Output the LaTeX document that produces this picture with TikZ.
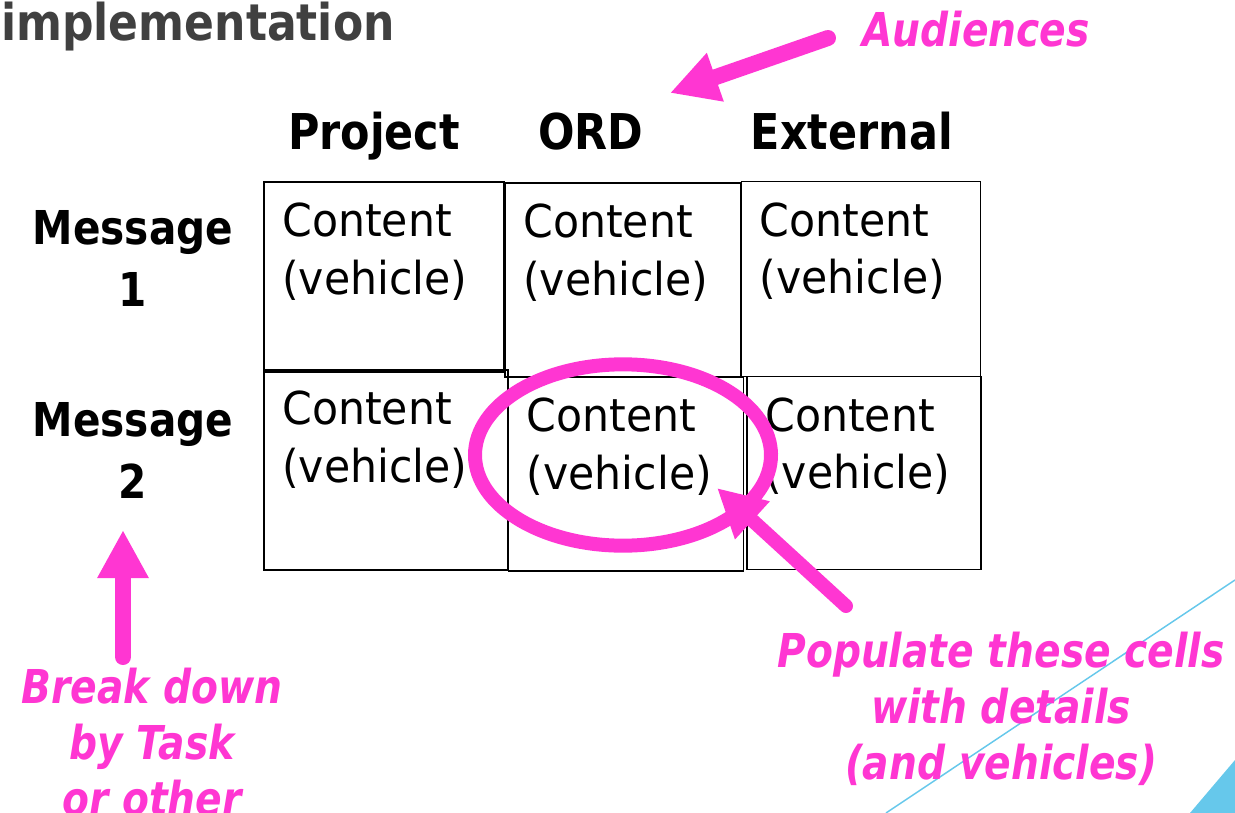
\documentclass[tikz,border=0pt]{standalone}
\usepackage{fontspec}
\setmainfont{DejaVu Sans}[FakeStretch=0.94,BoldFeatures={FakeStretch=0.87},BoldItalicFeatures={FakeStretch=0.84}]
\usetikzlibrary{arrows.meta,shapes.geometric}

\definecolor{hot}{RGB}{255,54,210}
\definecolor{sky}{RGB}{102,200,235}
\definecolor{slate}{RGB}{64,64,64}

\tikzset{
cell/.style={draw,line width=1.4pt,inner sep=0pt},
content/.style={anchor=north west,inner sep=0pt,align=left,font=\fontsize{34}{43}\selectfont},
head/.style={inner sep=0pt,font=\bfseries\fontsize{37}{47}\selectfont},
note/.style={hot,align=center,inner sep=0pt,font=\bfseries\itshape\fontsize{35}{42}\selectfont},
ring/.style={ellipse,draw=hot,line width=10.5pt,minimum width=222pt,minimum height=136pt,inner sep=0pt},
fat/.style={hot,line width=12pt,line cap=round,-{Triangle[length=36pt,width=36pt]}},
}

\begin{document}
\begin{tikzpicture}[x=0.75pt,y=-0.75pt]
\useasboundingbox (0,0) rectangle (1235,813);

% corner decoration
\draw[sky,line width=1.1pt] (1235,580) -- (886,813);
\fill[sky] (1190,813) -- (1235,760) -- (1235,813) -- cycle;

\node[anchor=base west,inner sep=0pt,slate,font=\bfseries\fontsize{38}{48}\selectfont] (title) at (1,41) {implementation};

% column and row heads
\node[head,anchor=base] (proj) at (374,150) {Project};
\node[head,anchor=base] (ord) at (591,150) {ORD};
\node[head,anchor=base] (ext) at (852,150) {External};
\node[head,anchor=north,align=center,font=\bfseries\fontsize{35}{47}\selectfont] (msg1) at (133,210) {Message\\1};
\node[head,anchor=north,align=center,font=\bfseries\fontsize{35}{47}\selectfont] (msg2) at (133,402) {Message\\2};

% grid
\foreach \n/\x/\y/\w/\h in {11/384/277/240/190,12/623/280/236/194,13/861/279/239/195,
21/386/470/244/200,22/626/474/235/194,23/864/473/234/193}
\node[cell,minimum width=\w*0.75pt,minimum height=\h*0.75pt] (c\n) at (\x,\y) {};
\foreach \n in {11,12,13,21,22,23}
\node[content] (t\n) at ([shift={(19,22)}]c\n.north west) {Content\\(vehicle)};

% notes
\node[note,anchor=base west] (aud) at (862,47) {Audiences};
\node[note,anchor=north] (brk) at (152,668) {Break down\\by Task\\or other};
\node[note,anchor=north] (pop) at (1001,632) {Populate these cells\\with details\\(and vehicles)};

\node[ring] (ring) at (623,455) {};

\coordinate (audtail) at (828,38);
\coordinate (audtip) at (670,93);
\coordinate (uptail) at (123,657);
\coordinate (uptip) at (123,530);
\coordinate (magtail) at (846,606);
\coordinate (magtip) at (717,488);
\draw[fat] (audtail) -- (audtip);
\draw[fat] (uptail) -- (uptip);
\draw[fat,line width=10.5pt] (magtail) -- (magtip);
\end{tikzpicture}
\end{document}
